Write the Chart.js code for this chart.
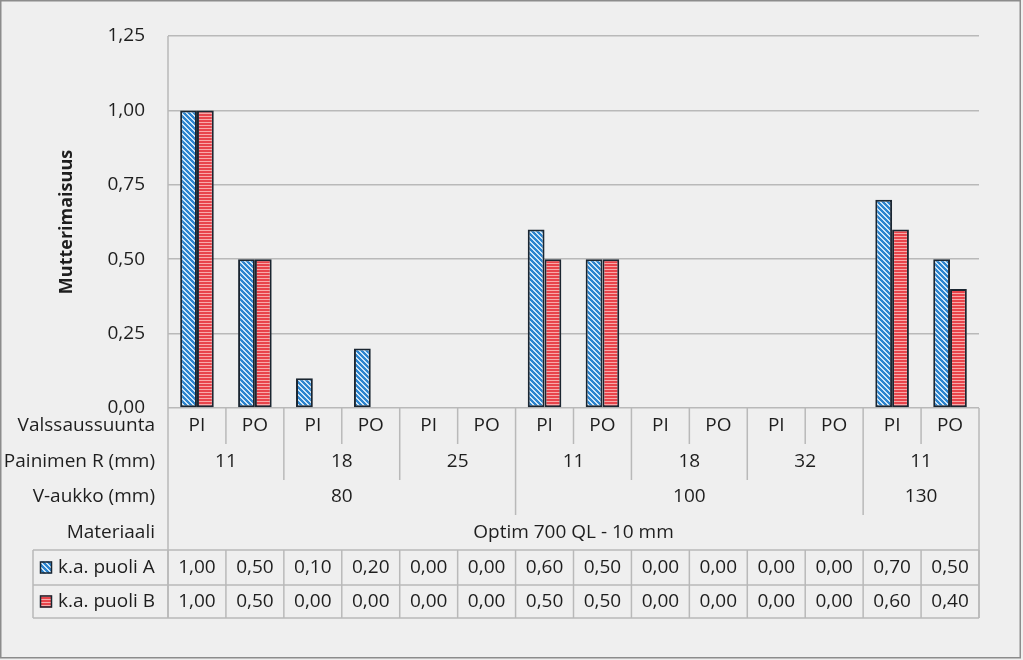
<!DOCTYPE html>
<html>
<head>
<meta charset="utf-8">
<script src="https://cdn.jsdelivr.net/npm/chart.js@4"></script>
<style>
  html, body { margin: 0; padding: 0; background: #efefef; }
  canvas { display: block; }
</style>
</head>
<body>
<canvas id="chart" width="1023" height="660"></canvas>
<script>
// Category levels (innermost first)
const valssaussuunta = ['PI', 'PO', 'PI', 'PO', 'PI', 'PO', 'PI', 'PO', 'PI', 'PO', 'PI', 'PO', 'PI', 'PO'];
const painimenR = ['11', '11', '18', '18', '25', '25', '11', '11', '18', '18', '32', '32', '11', '11'];
const vAukko = ['80', '80', '80', '80', '80', '80', '100', '100', '100', '100', '100', '100', '130', '130'];
const materiaali = ['Optim 700 QL - 10 mm', 'Optim 700 QL - 10 mm', 'Optim 700 QL - 10 mm', 'Optim 700 QL - 10 mm',
  'Optim 700 QL - 10 mm', 'Optim 700 QL - 10 mm', 'Optim 700 QL - 10 mm', 'Optim 700 QL - 10 mm',
  'Optim 700 QL - 10 mm', 'Optim 700 QL - 10 mm', 'Optim 700 QL - 10 mm', 'Optim 700 QL - 10 mm',
  'Optim 700 QL - 10 mm', 'Optim 700 QL - 10 mm'];
const levelTitles = ['Valssaussuunta', 'Painimen R (mm)', 'V-aukko (mm)', 'Materiaali'];

// Series
const seriesNames = ['k.a. puoli A', 'k.a. puoli B'];
const puoliA = [1.00, 0.50, 0.10, 0.20, 0.00, 0.00, 0.60, 0.50, 0.00, 0.00, 0.00, 0.00, 0.70, 0.50];
const puoliB = [1.00, 0.50, 0.00, 0.00, 0.00, 0.00, 0.50, 0.50, 0.00, 0.00, 0.00, 0.00, 0.60, 0.40];

// Y axis
const yTitle = 'Mutterimaisuus';
const yMin = 0, yMax = 1.25, yStep = 0.25;

const FONT = '"Open Sans", sans-serif';
const TEXT = '#1e1e1e';
const LINE = '#b9b9b9';

const fmt = v => v.toFixed(2).replace('.', ',');

// diagonal hatch (blue) - 45 degree stripes going down to the right
function makeBluePattern() {
  const s = 5;
  const c = document.createElement('canvas');
  c.width = s; c.height = s;
  const g = c.getContext('2d');
  const img = g.createImageData(s, s);
  for (let y = 0; y < s; y++) {
    for (let x = 0; x < s; x++) {
      const col = (((x - y) % s) + s) % s < 3 ? [44, 132, 206] : [206, 230, 248];
      const i = (y * s + x) * 4;
      img.data[i] = col[0]; img.data[i + 1] = col[1]; img.data[i + 2] = col[2]; img.data[i + 3] = 255;
    }
  }
  g.putImageData(img, 0, 0);
  return document.getElementById('chart').getContext('2d').createPattern(c, 'repeat');
}
// horizontal stripes (red)
function makeRedPattern() {
  const c = document.createElement('canvas');
  c.width = 3; c.height = 3;
  const g = c.getContext('2d');
  g.fillStyle = '#e8444b';
  g.fillRect(0, 0, 3, 3);
  g.fillStyle = '#f9a9a9';
  g.fillRect(0, 2, 3, 1);
  return document.getElementById('chart').getContext('2d').createPattern(c, 'repeat');
}

const bluePattern = makeBluePattern();
const redPattern = makeRedPattern();
const seriesFills = [bluePattern, redPattern];
const BAR_BORDER = '#1b2631';

// Draws the multi-level category axis, data table and outer frame
const tablePlugin = {
  id: 'tablePlugin',
  afterDraw(chart) {
    const ctx = chart.ctx;
    const xs = chart.scales.x;
    const area = chart.chartArea;
    const n = valssaussuunta.length;
    const levels = [valssaussuunta, painimenR, vAukko, materiaali];
    const rowBottoms = [area.bottom + 36, area.bottom + 72, area.bottom + 107, area.bottom + 142];
    const rowCenters = [area.bottom + 18, area.bottom + 54, area.bottom + 89, area.bottom + 125];
    const tableTop = rowBottoms[3];
    const tableRows = [tableTop, tableTop + 35, tableTop + 68];
    const tableLeft = 33;
    const edge = k => xs.getPixelForValue(k - 0.5);

    // highest level that changes at each boundary
    const breakLevel = [levels.length];
    for (let k = 1; k < n; k++) {
      let lv = -1;
      for (let l = 0; l < levels.length; l++) {
        if (levels[l][k] !== levels[l][k - 1]) lv = l;
      }
      breakLevel.push(lv);
    }
    breakLevel.push(levels.length);

    ctx.save();
    ctx.strokeStyle = LINE;
    ctx.lineWidth = 1.5;

    // vertical separators in axis area
    for (let k = 0; k <= n; k++) {
      const x = edge(k);
      const bl = breakLevel[k];
      if (bl < 0) continue;
      const bottom = bl >= levels.length ? tableRows[2] : rowBottoms[bl];
      const top = (k === 0) ? area.top : area.bottom;
      ctx.beginPath();
      ctx.moveTo(x, top);
      ctx.lineTo(x, bottom);
      ctx.stroke();
    }
    // data table grid
    for (let k = 0; k <= n; k++) {
      const x = edge(k);
      ctx.beginPath();
      ctx.moveTo(x, tableRows[0]);
      ctx.lineTo(x, tableRows[2]);
      ctx.stroke();
    }
    ctx.beginPath();
    ctx.moveTo(tableLeft, tableRows[0]);
    ctx.lineTo(tableLeft, tableRows[2]);
    ctx.stroke();
    tableRows.forEach(y => {
      ctx.beginPath();
      ctx.moveTo(tableLeft, y);
      ctx.lineTo(area.right, y);
      ctx.stroke();
    });

    // category labels
    ctx.fillStyle = TEXT;
    ctx.font = '19px ' + FONT;
    ctx.textBaseline = 'middle';
    ctx.textAlign = 'center';
    levels.forEach((lvl, l) => {
      let start = 0;
      for (let k = 1; k <= n; k++) {
        if (k === n || breakLevel[k] >= l) {
          const x = (edge(start) + edge(k)) / 2;
          ctx.fillText(lvl[start], x, rowCenters[l]);
          start = k;
        }
      }
    });
    // level titles
    ctx.textAlign = 'right';
    levelTitles.forEach((t, l) => ctx.fillText(t, 155, rowCenters[l]));

    // data table values
    const series = [puoliA, puoliB];
    ctx.textAlign = 'center';
    series.forEach((vals, r) => {
      const cy = (tableRows[r] + tableRows[r + 1]) / 2;
      vals.forEach((v, i) => ctx.fillText(fmt(v), xs.getPixelForValue(i), cy));
    });
    // legend keys + names
    seriesNames.forEach((name, r) => {
      const cy = (tableRows[r] + tableRows[r + 1]) / 2;
      ctx.fillStyle = seriesFills[r];
      ctx.fillRect(40, cy - 6, 12, 12);
      ctx.strokeStyle = BAR_BORDER;
      ctx.lineWidth = 1.5;
      ctx.strokeRect(40.5, cy - 5.5, 11, 11);
      ctx.fillStyle = TEXT;
      ctx.textAlign = 'left';
      ctx.fillText(name, 58, cy);
    });

    // outer frame
    ctx.strokeStyle = '#8c8c8c';
    ctx.lineWidth = 1.5;
    ctx.strokeRect(0.75, 0.75, 1019.5, 657);
    ctx.restore();
  }
};

new Chart(document.getElementById('chart'), {
  type: 'bar',
  data: {
    labels: valssaussuunta,
    datasets: [
      {
        label: seriesNames[0],
        data: puoliA,
        backgroundColor: bluePattern,
        borderColor: BAR_BORDER,
        borderWidth: 2,
        borderSkipped: false
      },
      {
        label: seriesNames[1],
        data: puoliB,
        backgroundColor: redPattern,
        borderColor: BAR_BORDER,
        borderWidth: 2,
        borderSkipped: false
      }
    ]
  },
  options: {
    responsive: false,
    animation: false,
    categoryPercentage: 0.58,
    barPercentage: 1.0,
    layout: {
      padding: { top: 36, right: 44, bottom: 252, left: 0 }
    },
    plugins: {
      legend: { display: false },
      tooltip: { enabled: false }
    },
    scales: {
      x: {
        display: false
      },
      y: {
        min: yMin,
        max: yMax,
        afterFit: scale => { scale.width = 168; },
        ticks: {
          stepSize: yStep,
          padding: 23,
          color: TEXT,
          font: { family: FONT, size: 19 },
          callback: v => fmt(v)
        },
        grid: {
          color: LINE,
          lineWidth: 1.5,
          drawTicks: false
        },
        border: { display: false },
        title: {
          display: true,
          text: yTitle,
          color: TEXT,
          font: { family: FONT, size: 18, weight: 'bold' },
          padding: { top: 56, bottom: 0 }
        }
      }
    }
  },
  plugins: [tablePlugin]
});
</script>
</body>
</html>
